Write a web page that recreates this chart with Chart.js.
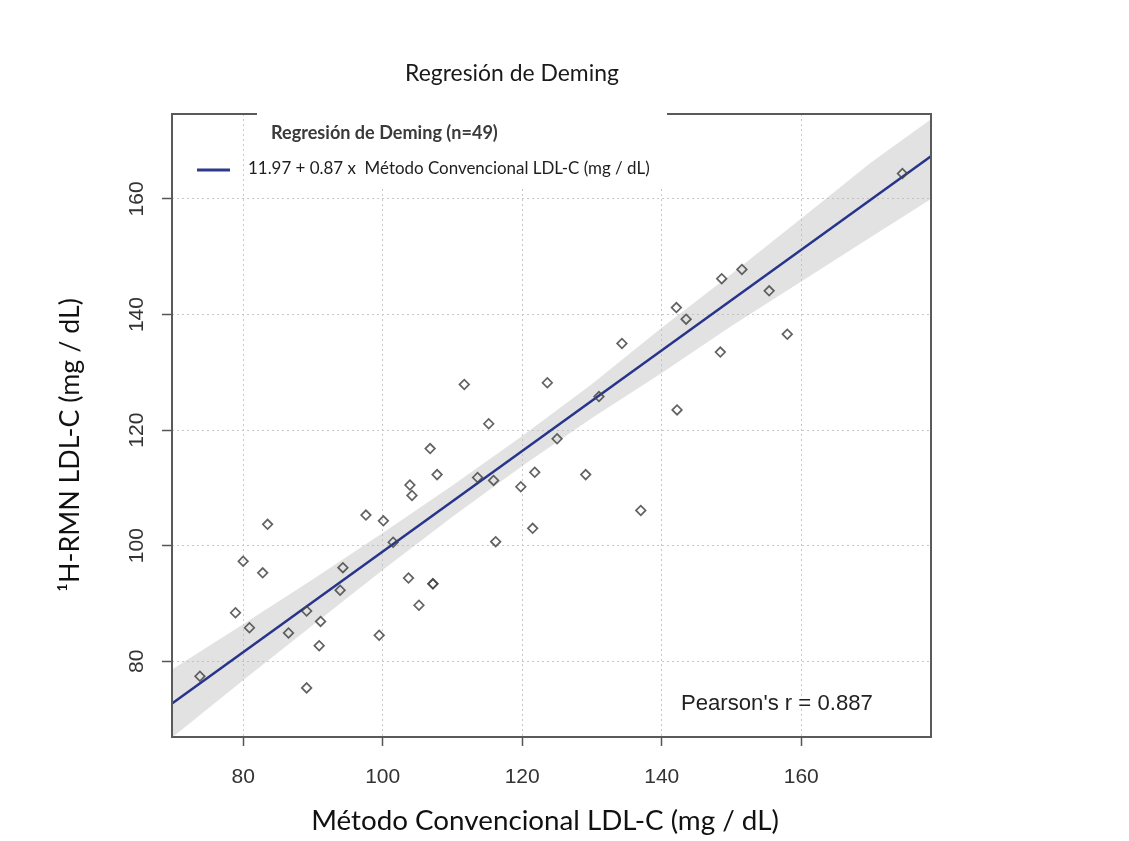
<!DOCTYPE html>
<html><head><meta charset="utf-8">
<script src="https://cdn.jsdelivr.net/npm/chart.js@4.4.1/dist/chart.umd.min.js"></script>
<style>html,body{margin:0;padding:0;background:#fff;}#wrap{width:1129px;height:841px;position:relative;}</style>
</head><body><div id="wrap"><canvas id="c"></canvas></div>
<script>
const chartTitle = 'Regresión de Deming';
const legendTitle = 'Regresión de Deming (n=49)';
const legendLabel = '11.97 + 0.87 x  Método Convencional LDL-C (mg / dL)';
const xAxisTitle = 'Método Convencional LDL-C (mg / dL)';
const yAxisTitle = '\u00B9H-RMN LDL-C (mg / dL)';
const statLabel = "Pearson's r = 0.887";

const xTicks = [80, 100, 120, 140, 160];
const yTicks = [80, 100, 120, 140, 160];
const xRange = [69.8, 178.6];
const yRange = [66.9, 174.7];

const ptsX = [73.8, 80.0, 83.5, 78.9, 80.9, 82.8, 89.1, 91.1, 86.5, 90.9, 89.1, 94.3, 93.9, 97.6, 100.1, 101.5, 99.5, 103.7, 107.2, 107.2, 105.2, 103.9, 104.2, 111.7, 123.6, 131.0, 142.2, 115.2, 125.0, 106.8, 107.8, 113.6, 115.9, 121.8, 119.8, 129.1, 137.0, 121.5, 116.2, 148.6, 151.5, 142.1, 143.5, 155.4, 134.3, 158.0, 148.4, 174.5];
const ptsY = [77.4, 97.3, 103.7, 88.4, 85.8, 95.3, 88.7, 86.9, 84.9, 82.7, 75.4, 96.2, 92.3, 105.3, 104.3, 100.6, 84.5, 94.4, 93.4, 93.4, 89.7, 110.5, 108.7, 127.9, 128.2, 125.8, 123.5, 121.1, 118.5, 116.8, 112.3, 111.8, 111.3, 112.7, 110.2, 112.3, 106.1, 103.0, 100.7, 146.2, 147.8, 141.2, 139.2, 144.1, 135.0, 136.6, 133.5, 164.4];

const regX = [69.8, 178.6];
const regY = [72.7, 167.4];

const bandX = [69.8, 80, 90, 100, 110, 120, 130, 140, 150, 160, 170, 178.6];
const bandLow = [66.8, 76.7, 86.3, 95.8, 105.0, 113.8, 122.1, 129.9, 138.0, 145.7, 153.4, 160.0];
const bandHigh = [78.6, 86.4, 94.2, 102.2, 110.4, 119.0, 128.0, 137.7, 147.0, 156.6, 166.3, 173.8];

const zip = (xs, ys) => xs.map((x, i) => ({x, y: ys[i]}));

function fitSize(ctx, text, family, weight, width) {
  ctx.font = weight + ' 100px ' + family;
  return 100 * width / ctx.measureText(text).width;
}

const decor = {
  id: 'decor',
  afterDatasetsDraw(chart) {
    const {ctx, chartArea: a} = chart;
    ctx.save();
    ctx.strokeStyle = '#5a5a5a';
    ctx.lineWidth = 2;
    ctx.strokeRect(a.left, a.top, a.right - a.left, a.bottom - a.top);
    // legend box (white, interrupts top border)
    ctx.fillStyle = '#ffffff';
    ctx.fillRect(257, a.top - 6, 410, 80);
    // legend title
    let s = fitSize(ctx, legendTitle, 'Lato', 'bold', 227);
    ctx.font = 'bold ' + s + 'px Lato';
    ctx.fillStyle = '#3a3a3a';
    ctx.textAlign = 'left';
    ctx.textBaseline = 'middle';
    ctx.fillText(legendTitle, 271, 133);
    // legend sample line
    ctx.strokeStyle = '#2e3a8c';
    ctx.lineWidth = 3;
    ctx.beginPath(); ctx.moveTo(197, 170); ctx.lineTo(230, 170); ctx.stroke();
    s = fitSize(ctx, legendLabel, 'Lato', 'normal', 402);
    ctx.font = s + 'px Lato';
    ctx.fillStyle = '#1e1e1e';
    ctx.fillText(legendLabel, 248, 169);
    // Pearson
    s = fitSize(ctx, statLabel, '"Liberation Sans"', 'normal', 192);
    ctx.font = s + 'px "Liberation Sans"';
    ctx.fillStyle = '#222';
    ctx.fillText(statLabel, 681, 704);
    ctx.restore();
  },
  afterDraw(chart) {
    const ctx = chart.ctx;
    ctx.save();
    ctx.fillStyle = '#1a1a1a';
    ctx.textAlign = 'center';
    let s = fitSize(ctx, chartTitle, 'Lato', 'normal', 214);
    ctx.font = s + 'px Lato';
    ctx.textBaseline = 'middle';
    ctx.fillText(chartTitle, 512, 74);
    ctx.fillStyle = '#111';
    s = fitSize(ctx, xAxisTitle, 'Lato', 'normal', 468);
    ctx.font = s + 'px Lato';
    ctx.textBaseline = 'alphabetic';
    ctx.fillText(xAxisTitle, 545, 830);
    s = fitSize(ctx, yAxisTitle, 'Lato', 'normal', 294);
    ctx.font = s + 'px Lato';
    ctx.translate(79, 445);
    ctx.rotate(-Math.PI / 2);
    ctx.fillText(yAxisTitle, 0, 0);
    ctx.restore();
  }
};

const tickFont = {family: '"Liberation Sans", Arial, sans-serif', size: 21};

new Chart(document.getElementById('c'), {
  type: 'scatter',
  data: {
    datasets: [
      {
        label: 'obs', data: zip(ptsX, ptsY), order: 0,
        pointStyle: 'rectRot', pointRadius: 4.8, pointBorderWidth: 1.7,
        pointBorderColor: 'rgba(70,70,70,0.85)', pointBackgroundColor: 'rgba(0,0,0,0)'
      },
      {
        label: 'deming', data: zip(regX, regY), order: 1, showLine: true,
        borderColor: '#27348b', borderWidth: 2.6, pointRadius: 0
      },
      {
        label: 'low', data: zip(bandX, bandLow), order: 2, showLine: true,
        borderWidth: 0, borderColor: 'rgba(0,0,0,0)', pointRadius: 0, fill: false
      },
      {
        label: 'high', data: zip(bandX, bandHigh), order: 3, showLine: true,
        borderWidth: 0, borderColor: 'rgba(0,0,0,0)', pointRadius: 0,
        fill: '-1', backgroundColor: 'rgba(185,185,185,0.42)'
      }
    ]
  },
  options: {
    responsive: true, maintainAspectRatio: false, animation: false,
    layout: {padding: {left: 0, top: 114, right: 198, bottom: 0}},
    plugins: {legend: {display: false}, tooltip: {enabled: false}, title: {display: false}},
    scales: {
      x: {
        type: 'linear', min: xRange[0], max: xRange[1],
        afterBuildTicks: s => { s.ticks = xTicks.map(v => ({value: v})); },
        afterFit: s => { s.height = 104; },
        grid: {color: '#c8c8c8', lineWidth: 1, drawTicks: true, tickLength: 9, tickColor: '#555', tickWidth: 1.5},
        border: {display: false, dash: [2, 3]},
        ticks: {font: tickFont, color: '#333', padding: 19, maxRotation: 0}
      },
      y: {
        type: 'linear', min: yRange[0], max: yRange[1],
        afterBuildTicks: s => { s.ticks = yTicks.map(v => ({value: v})); },
        afterFit: s => { s.width = 172; },
        grid: {color: '#c8c8c8', lineWidth: 1, drawTicks: true, tickLength: 10, tickColor: '#555', tickWidth: 1.5},
        border: {display: false, dash: [2, 3]},
        ticks: {font: tickFont, color: '#333', padding: 7, minRotation: 90, maxRotation: 90, crossAlign: 'center'}
      }
    }
  },
  plugins: [decor]
});
</script>
</body></html>
